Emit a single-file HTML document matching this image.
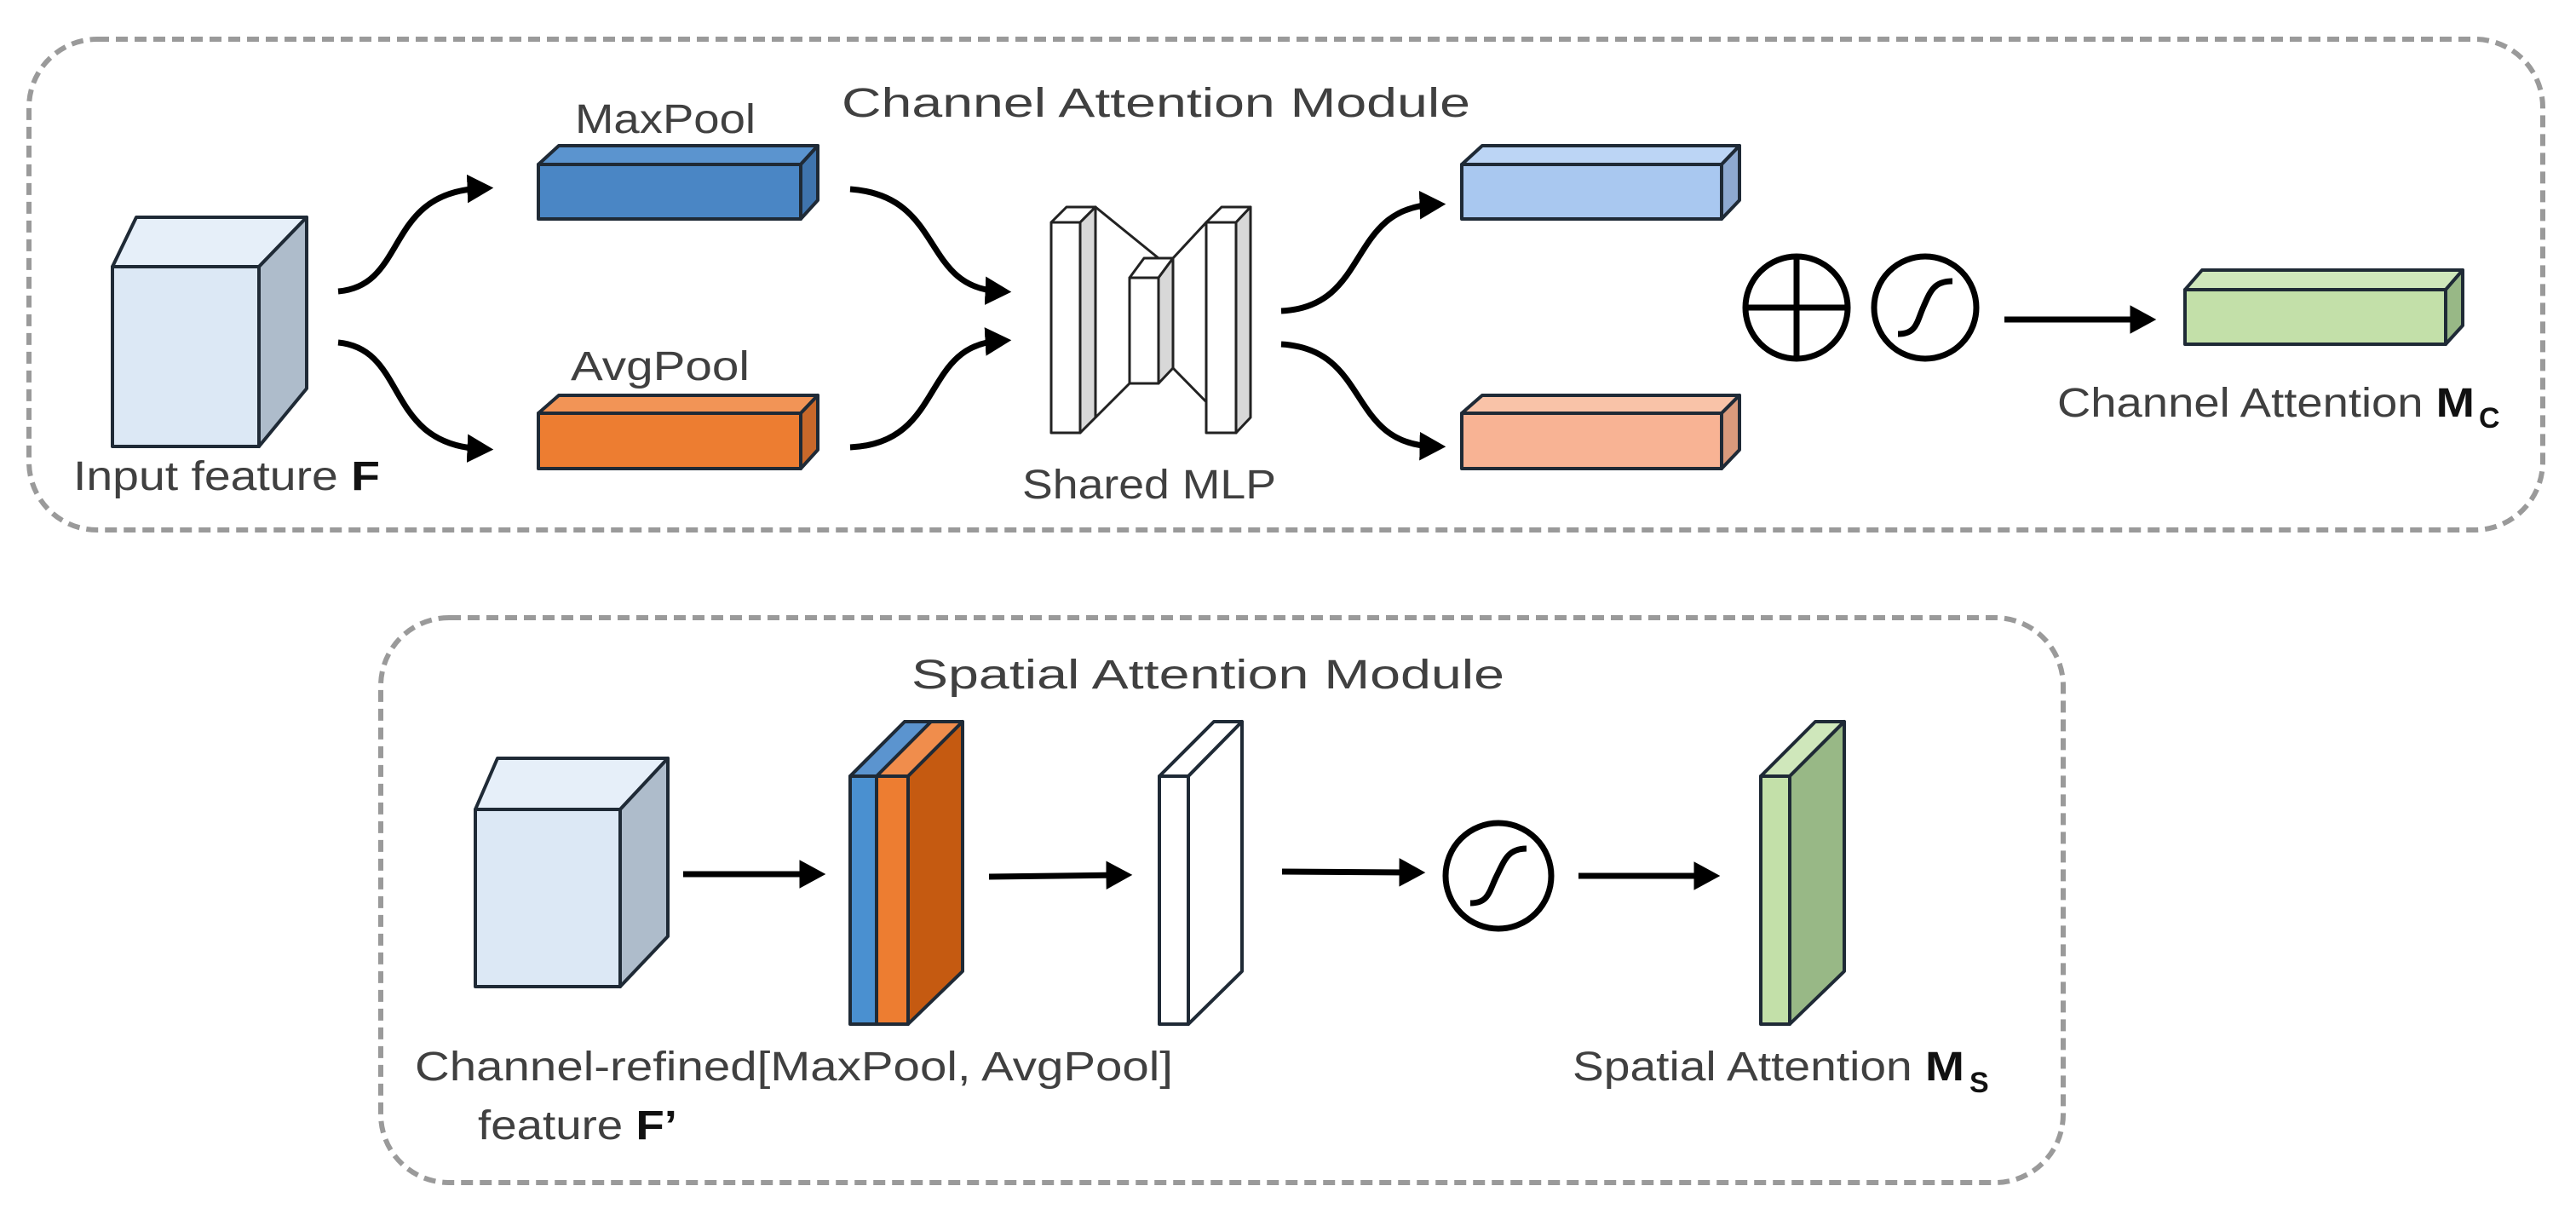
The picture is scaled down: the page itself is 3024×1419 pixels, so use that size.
<!DOCTYPE html>
<html><head><meta charset="utf-8"><style>html,body{margin:0;padding:0;background:#fff}svg{display:block}</style></head>
<body>
<svg width="3024" height="1419" viewBox="0 0 3024 1419" xmlns="http://www.w3.org/2000/svg" font-family="Liberation Sans, sans-serif">
<defs>
<marker id="ah" markerWidth="6" markerHeight="6" refX="2.5" refY="2.6" orient="auto" markerUnits="strokeWidth">
<path d="M0,0.2 L4.4,2.6 L0,5 Z" fill="#000"/></marker>
</defs>
<rect width="3024" height="1419" fill="#fff"/>
<rect x="34" y="46" width="2951" height="576" rx="80" fill="none" stroke="#9a9a9a" stroke-width="6" stroke-dasharray="14,8"/>
<rect x="447" y="725" width="1975" height="663" rx="80" fill="none" stroke="#9a9a9a" stroke-width="6" stroke-dasharray="14,8"/>

<g fill="#404040" font-size="48">
<text x="988" y="137" textLength="738" lengthAdjust="spacingAndGlyphs">Channel Attention Module</text>
<text x="675" y="156" textLength="212" lengthAdjust="spacingAndGlyphs">MaxPool</text>
<text x="670" y="446" textLength="210" lengthAdjust="spacingAndGlyphs">AvgPool</text>
<text x="86" y="575" textLength="360" lengthAdjust="spacingAndGlyphs">Input feature <tspan font-weight="bold" fill="#111">F</tspan></text>
<text x="1200" y="585" textLength="298" lengthAdjust="spacingAndGlyphs">Shared MLP</text>
<text x="2415" y="489" textLength="490" lengthAdjust="spacingAndGlyphs">Channel Attention <tspan font-weight="bold" fill="#111">M</tspan></text>
<text x="2910" y="502" font-size="34" font-weight="bold" fill="#111">C</text>
<text x="1070" y="808" textLength="696" lengthAdjust="spacingAndGlyphs">Spatial Attention Module</text>
<text x="487" y="1268" textLength="890" lengthAdjust="spacingAndGlyphs">Channel-refined[MaxPool, AvgPool]</text>
<text x="561" y="1337" textLength="234" lengthAdjust="spacingAndGlyphs">feature <tspan font-weight="bold" fill="#111">F’</tspan></text>
<text x="1846" y="1268" textLength="460" lengthAdjust="spacingAndGlyphs">Spatial Attention <tspan font-weight="bold" fill="#111">M</tspan></text>
<text x="2312" y="1282" font-size="34" font-weight="bold" fill="#111">S</text>
</g>

<g stroke="#1f2a36" stroke-width="4" stroke-linejoin="round">
<polygon points="132,313 160,255 360,255 304,313" fill="#e6eff9"/>
<polygon points="304,313 360,255 360,456 304,524" fill="#aebccb"/>
<rect x="132" y="313" width="172" height="211" fill="#dce8f5"/>
<polygon points="632,193 656,171 960,171 940,193" fill="#5b94cf"/>
<polygon points="940,193 960,171 960,235 940,257" fill="#3f74ad"/>
<rect x="632" y="193" width="308" height="64" fill="#4a86c5"/>
<polygon points="632,485 656,464 960,464 940,485" fill="#f29456"/>
<polygon points="940,485 960,464 960,528 940,550" fill="#c8682a"/>
<rect x="632" y="485" width="308" height="65" fill="#ed7d31"/>
<polygon points="1716,193 1740,171 2042,171 2021,193" fill="#bcd5f5"/>
<polygon points="2021,193 2042,171 2042,235 2021,257" fill="#8ea9d0"/>
<rect x="1716" y="193" width="305" height="64" fill="#a9c8f0"/>
<polygon points="1716,485 1740,464 2042,464 2021,485" fill="#f9c3a8"/>
<polygon points="2021,485 2042,464 2042,528 2021,550" fill="#d99a7c"/>
<rect x="1716" y="485" width="305" height="65" fill="#f8b394"/>
<polygon points="2565,340 2585,317 2891,317 2871,340" fill="#cfe7bb"/>
<polygon points="2871,340 2891,317 2891,382 2871,404" fill="#98b886"/>
<rect x="2565" y="340" width="306" height="64" fill="#c3e0a9"/>
</g>

<g stroke="#222" stroke-width="3" stroke-linejoin="round">
<line x1="1286" y1="243" x2="1360" y2="303"/>
<line x1="1286" y1="490" x2="1326" y2="450"/>
<line x1="1377" y1="303" x2="1416" y2="261"/>
<line x1="1377" y1="432" x2="1434" y2="490"/>
<polygon points="1234,261 1252,243 1286,243 1268,261" fill="#fff"/>
<polygon points="1268,261 1286,243 1286,490 1268,508" fill="#d8d8d8"/>
<rect x="1234" y="261" width="34" height="247" fill="#fff"/>
<polygon points="1326,326 1343,303 1377,303 1360,326" fill="#fff"/>
<polygon points="1360,326 1377,303 1377,432 1360,450" fill="#d8d8d8"/>
<rect x="1326" y="326" width="34" height="124" fill="#fff"/>
<polygon points="1416,261 1434,243 1468,243 1451,261" fill="#fff"/>
<polygon points="1451,261 1468,243 1468,490 1451,508" fill="#d8d8d8"/>
<rect x="1416" y="261" width="35" height="247" fill="#fff"/>
</g>

<g stroke="#1f2a36" stroke-width="4" stroke-linejoin="round">
<polygon points="558,950 584,890 784,890 728,950" fill="#e6eff9"/>
<polygon points="728,950 784,890 784,1099 728,1158" fill="#aebccb"/>
<rect x="558" y="950" width="170" height="208" fill="#dce8f5"/>
<polygon points="998,911 1062,847 1130,847 1066,911" fill="#f08d4c"/>
<polygon points="998,911 1062,847 1093,847 1029,911" fill="#5b94cf"/>
<polygon points="1066,911 1130,847 1130,1140 1066,1202" fill="#c55a11"/>
<rect x="1029" y="911" width="37" height="291" fill="#ed7d31"/>
<rect x="998" y="911" width="31" height="291" fill="#4a90d0"/>
<polygon points="1361,911 1425,847 1458,847 1395,911" fill="#fff"/>
<polygon points="1395,911 1458,847 1458,1140 1395,1202" fill="#fff"/>
<rect x="1361" y="911" width="34" height="291" fill="#fff"/>
<polygon points="2067,911 2131,847 2165,847 2101,911" fill="#cfe7bb"/>
<polygon points="2101,911 2165,847 2165,1140 2101,1202" fill="#98b886"/>
<rect x="2067" y="911" width="34" height="291" fill="#c3e0a9"/>
</g>

<g fill="none" stroke="#000" stroke-width="7" marker-end="url(#ah)">
<path d="M397,342 C480,335 450,225 566,221"/>
<path d="M397,402 C480,410 450,522 566,527"/>
<path d="M998,222 C1110,230 1080,338 1174,342"/>
<path d="M998,525 C1110,520 1080,405 1174,400"/>
<path d="M1504,365 C1610,360 1580,244 1684,240"/>
<path d="M1504,404 C1610,410 1580,522 1684,524"/>
<path d="M2353,375 L2518,375"/>
<path d="M802,1026 L956,1026"/>
<path d="M1161,1029 L1316,1027"/>
<path d="M1505,1023 L1660,1024"/>
<path d="M1853,1028 L2006,1028"/>
</g>

<g fill="none" stroke="#000" stroke-width="7">
<circle cx="2109" cy="361" r="60"/>
<line x1="2051" y1="361" x2="2167" y2="361"/>
<line x1="2109" y1="303" x2="2109" y2="419"/>
<circle cx="2260" cy="361" r="60"/>
<path d="M2228,392 C2250,392 2250,378 2258,360 C2266,342 2270,330 2292,330"/>
<circle cx="1759" cy="1028" r="62"/>
<path d="M1726,1060 C1748,1060 1748,1046 1757,1028 C1766,1010 1770,996 1792,996"/>
</g>
</svg>
</body></html>
